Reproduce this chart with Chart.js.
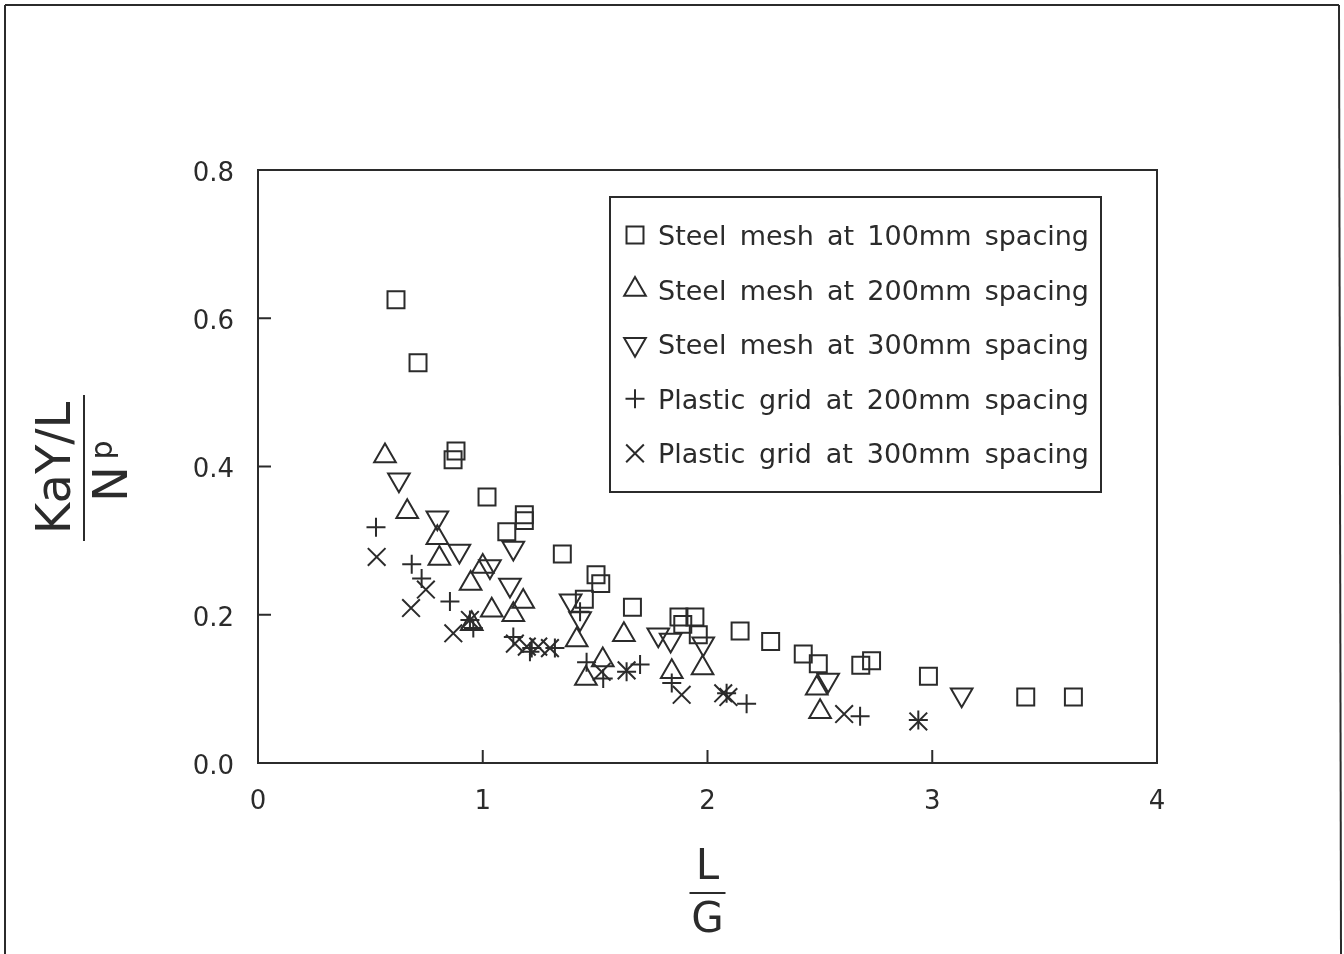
<!DOCTYPE html>
<html>
<head>
<meta charset="utf-8">
<script src="https://cdn.jsdelivr.net/npm/chart.js@4/dist/chart.umd.min.js"></script>
<style>
  html, body { margin: 0; padding: 0; background: #ffffff; }
  #wrap { width: 1344px; height: 954px; position: relative; }
</style>
</head>
<body>
<div id="wrap"><canvas id="c" width="1344" height="954"></canvas></div>
<script>
// ---------- data ----------
const seriesLabels = [
  'Steel mesh at 100mm spacing',
  'Steel mesh at 200mm spacing',
  'Steel mesh at 300mm spacing',
  'Plastic grid at 200mm spacing',
  'Plastic grid at 300mm spacing'
];

const steel100X = [0.614, 0.712, 0.881, 0.868, 1.019, 1.107, 1.185, 1.185, 1.354, 1.452, 1.504, 1.525, 1.666, 1.873, 1.890, 1.944, 1.959, 2.145, 2.281, 2.426, 2.493, 2.682, 2.730, 2.983, 3.416, 3.628];
const steel100Y = [0.625, 0.540, 0.421, 0.409, 0.359, 0.312, 0.335, 0.327, 0.282, 0.221, 0.254, 0.242, 0.210, 0.197, 0.187, 0.197, 0.173, 0.178, 0.164, 0.147, 0.134, 0.132, 0.138, 0.117, 0.089, 0.089];

const steel200X = [0.565, 0.664, 0.798, 0.807, 0.946, 0.951, 1.000, 1.040, 1.136, 1.180, 1.418, 1.459, 1.534, 1.628, 1.841, 1.978, 2.486, 2.501];
const steel200Y = [0.414, 0.339, 0.304, 0.276, 0.242, 0.188, 0.265, 0.206, 0.200, 0.218, 0.166, 0.114, 0.139, 0.173, 0.123, 0.128, 0.101, 0.069];

const steel300X = [0.627, 0.798, 0.896, 1.032, 1.121, 1.136, 1.391, 1.433, 1.781, 1.836, 1.981, 2.537, 3.131];
const steel300Y = [0.382, 0.331, 0.286, 0.265, 0.240, 0.290, 0.219, 0.195, 0.173, 0.166, 0.161, 0.112, 0.092];

const plastic200X = [0.525, 0.684, 0.728, 0.854, 0.943, 0.958, 1.136, 1.210, 1.218, 1.321, 1.433, 1.462, 1.536, 1.640, 1.700, 1.841, 2.085, 2.174, 2.679, 2.938];
const plastic200Y = [0.318, 0.268, 0.249, 0.218, 0.193, 0.182, 0.170, 0.150, 0.155, 0.155, 0.204, 0.136, 0.114, 0.123, 0.133, 0.108, 0.094, 0.080, 0.063, 0.058];

const plastic300X = [0.528, 0.681, 0.747, 0.869, 0.943, 1.143, 1.196, 1.247, 1.299, 1.529, 1.640, 1.885, 2.070, 2.093, 2.608, 2.938];
const plastic300Y = [0.278, 0.209, 0.234, 0.175, 0.193, 0.161, 0.157, 0.157, 0.155, 0.123, 0.125, 0.092, 0.094, 0.089, 0.066, 0.056];

const xTickValues = [0, 1, 2, 3, 4];
const yTickValues = [0.0, 0.2, 0.4, 0.6, 0.8];

// ---------- styling ----------
const INK = '#2b2b2b';
const FONT = '"DejaVu Sans", "Liberation Sans", sans-serif';

function pairs(xs, ys) { return xs.map((x, i) => ({ x: x, y: ys[i] })); }

const markerDefs = [
  { style: 'rect', r: 12, rot: 0 },
  { style: 'triangle', r: 12.5, rot: 0 },
  { style: 'triangle', r: 12.5, rot: 180 },
  { style: 'cross', r: 9.5, rot: 0 },
  { style: 'crossRot', r: 12.5, rot: 0 }
];
const seriesXs = [steel100X, steel200X, steel300X, plastic200X, plastic300X];
const seriesYs = [steel100Y, steel200Y, steel300Y, plastic200Y, plastic300Y];

const datasets = seriesLabels.map((lab, i) => ({
  label: lab,
  data: pairs(seriesXs[i], seriesYs[i]),
  pointStyle: markerDefs[i].style,
  pointRadius: markerDefs[i].r,
  pointHoverRadius: markerDefs[i].r,
  pointRotation: markerDefs[i].rot,
  borderColor: INK,
  backgroundColor: 'rgba(0,0,0,0)',
  pointBorderWidth: 2,
  borderWidth: 2,
  showLine: false
}));

function drawMark(ctx, style, x, y, r, rot) {
  ctx.beginPath();
  if (style === 'rect') {
    const s = Math.SQRT1_2 * r;
    ctx.rect(x - s, y - s, 2 * s, 2 * s);
  } else if (style === 'triangle') {
    let a = rot * Math.PI / 180;
    ctx.moveTo(x + Math.sin(a) * r, y - Math.cos(a) * r);
    a += 2 * Math.PI / 3;
    ctx.lineTo(x + Math.sin(a) * r, y - Math.cos(a) * r);
    a += 2 * Math.PI / 3;
    ctx.lineTo(x + Math.sin(a) * r, y - Math.cos(a) * r);
    ctx.closePath();
  } else if (style === 'cross') {
    ctx.moveTo(x, y - r); ctx.lineTo(x, y + r);
    ctx.moveTo(x - r, y); ctx.lineTo(x + r, y);
  } else if (style === 'crossRot') {
    const o = Math.SQRT1_2 * r;
    ctx.moveTo(x - o, y - o); ctx.lineTo(x + o, y + o);
    ctx.moveTo(x - o, y + o); ctx.lineTo(x + o, y - o);
  }
  ctx.stroke();
}

function line(ctx, x1, y1, x2, y2) {
  ctx.beginPath(); ctx.moveTo(x1, y1); ctx.lineTo(x2, y2); ctx.stroke();
}

const decor = {
  id: 'decor',
  beforeDraw(chart) {
    const ctx = chart.ctx;
    ctx.save();
    ctx.fillStyle = '#ffffff';
    ctx.fillRect(0, 0, chart.width, chart.height);
    ctx.restore();
  },
  afterDraw(chart) {
    const ctx = chart.ctx;
    const a = chart.chartArea;
    const xs = chart.scales.x, ys = chart.scales.y;
    ctx.save();
    ctx.strokeStyle = INK;
    ctx.fillStyle = INK;
    ctx.lineWidth = 2;

    // outer page frame
    line(ctx, 5, 954, 5, 5);
    line(ctx, 5, 5, 1339, 5);
    line(ctx, 1339, 5, 1341, 954);

    // plot box
    ctx.strokeRect(a.left, a.top, a.right - a.left, a.bottom - a.top);

    // inward ticks
    xs.ticks.forEach(t => {
      const p = xs.getPixelForValue(t.value);
      line(ctx, p, a.bottom, p, a.bottom - 13);
    });
    ys.ticks.forEach(t => {
      const p = ys.getPixelForValue(t.value);
      line(ctx, a.left, p, a.left + 13, p);
    });

    // legend box
    const lx = 610, ly = 197, lw = 491, lh = 295;
    ctx.strokeRect(lx, ly, lw, lh);
    ctx.font = '27px ' + FONT;
    ctx.textBaseline = 'middle';
    ctx.textAlign = 'left';
    chart.data.datasets.forEach((ds, i) => {
      const cy = 238 + i * 54.6;
      ctx.lineWidth = 2;
      drawMark(ctx, ds.pointStyle, 635, cy - 3, ds.pointRadius, ds.pointRotation);
      const words = ds.label.split(' ');
      const startX = 658, endX = 1089;
      const widths = words.map(w => ctx.measureText(w).width);
      const total = widths.reduce((s, w) => s + w, 0);
      const gap = (endX - startX - total) / (words.length - 1);
      let cx = startX;
      words.forEach((w, k) => { ctx.fillText(w, cx, cy); cx += widths[k] + gap; });
    });

    // x axis title: L over G
    ctx.lineWidth = 2;
    ctx.textAlign = 'center';
    ctx.font = '42px ' + FONT;
    const xc = xs.getPixelForValue(2);
    ctx.fillText('L', xc, 868);
    line(ctx, xc - 18, 893, xc + 18, 893);
    ctx.fillText('G', xc, 921);

    // y axis title: KaY/L over Np (rotated)
    ctx.save();
    ctx.translate(58, 468);
    ctx.rotate(-Math.PI / 2);
    ctx.font = '48px ' + FONT;
    ctx.textAlign = 'center';
    ctx.fillText('KaY/L', 0, 0);
    line(ctx, -73, 26, 73, 26);
    ctx.fillText('N', -16, 57);
    ctx.font = '30px ' + FONT;
    ctx.fillText('p', 18, 46);
    ctx.restore();

    ctx.restore();
  }
};

new Chart(document.getElementById('c'), {
  type: 'scatter',
  data: { datasets: datasets },
  options: {
    responsive: false,
    animation: false,
    layout: { padding: { top: 170, right: 187, bottom: 91, left: 0 } },
    plugins: {
      legend: { display: false },
      tooltip: { enabled: false }
    },
    scales: {
      x: {
        type: 'linear',
        min: 0, max: 4,
        afterFit(scale) { scale.height = 100; },
        afterBuildTicks(scale) { scale.ticks = xTickValues.map(v => ({ value: v })); },
        grid: { display: false, drawTicks: false },
        border: { display: false },
        ticks: {
          color: INK,
          font: { family: FONT, size: 26 },
          padding: 24,
          callback: v => String(v)
        }
      },
      y: {
        type: 'linear',
        min: 0, max: 0.8,
        afterFit(scale) { scale.width = 258; },
        afterBuildTicks(scale) { scale.ticks = yTickValues.map(v => ({ value: v })); },
        grid: { display: false, drawTicks: false },
        border: { display: false },
        ticks: {
          color: INK,
          font: { family: FONT, size: 26 },
          padding: 24,
          labelOffset: 4,
          callback: v => Number(v).toFixed(1)
        }
      }
    }
  },
  plugins: [decor]
});
</script>
</body>
</html>
